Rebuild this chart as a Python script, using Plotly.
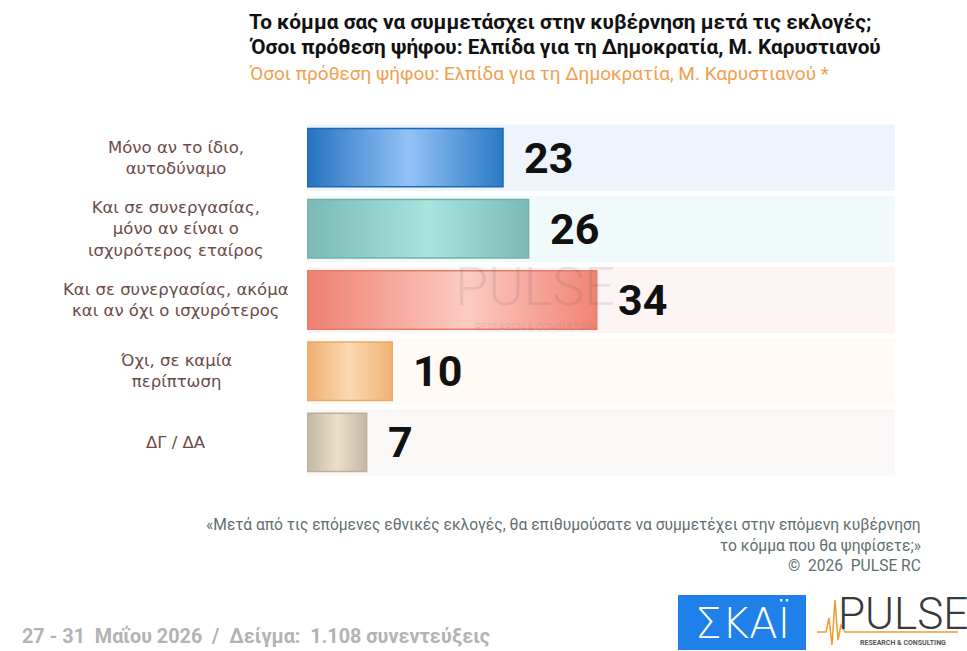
import plotly.graph_objects as go

# ---------------- data ----------------
categories = [
    "Μόνο αν το ίδιο,<br>αυτοδύναμο",
    "Και σε συνεργασίας,<br>μόνο αν είναι ο<br>ισχυρότερος εταίρος",
    "Και σε συνεργασίας, ακόμα<br>και αν όχι ο ισχυρότερος",
    "Όχι, σε καμία<br>περίπτωση",
    "ΔΓ / ΔΑ",
]
values = [23, 26, 34, 10, 7]
value_labels = ["23", "26", "34", "10", "7"]

title_line1 = "Το κόμμα σας να συμμετάσχει στην κυβέρνηση μετά τις εκλογές;"
title_line2 = "Όσοι πρόθεση ψήφου: Ελπίδα για τη Δημοκρατία, Μ. Καρυστιανού"
subtitle = "Όσοι πρόθεση ψήφου: Ελπίδα για τη Δημοκρατία, Μ. Καρυστιανού *"
footnote_lines = [
    "«Μετά από τις επόμενες εθνικές εκλογές, θα επιθυμούσατε να συμμετέχει στην επόμενη κυβέρνηση",
    "το κόμμα που θα ψηφίσετε;»",
    "©  2026  PULSE RC",
]
date_text = "27 - 31  Μαΐου 2026  /  Δείγμα:  1.108 συνεντεύξεις"

# ---------------- styles ----------------
W, H = 967, 651
TRACK_MAX = 69
BAR_HALF = 0.41
TRACK_WIDTH = 0.93
grad_scales = [
    [[0, "#2672bf"], [0.52, "#93c2f7"], [1, "#2a79c4"]],
    [[0, "#7ab9b5"], [0.55, "#a9e4df"], [1, "#7cbab6"]],
    [[0, "#ef8070"], [0.55, "#fdcbc3"], [1, "#f08474"]],
    [[0, "#efb070"], [0.5, "#fad9b2"], [1, "#f0b274"]],
    [[0, "#c3b7a3"], [0.5, "#ecdfca"], [1, "#c4b8a4"]],
]
edge_colors = ["#1f68b3", "#74b0ac", "#ea7a6a", "#eaa968", "#bcb09c"]
track_colors = ["#eef4fc", "#f0fafa", "#fdf4f4", "#fffaf4", "#faf8f6"]
label_color = "#6b4b48"


def px(x):
    return x / W


def py(y):
    return 1 - y / H


positions = list(range(len(values)))

fig = go.Figure()

# background tracks
fig.add_trace(go.Bar(
    x=[TRACK_MAX] * len(values), y=positions, orientation="h",
    width=TRACK_WIDTH, marker=dict(color=track_colors, line=dict(width=0)),
    hoverinfo="skip", showlegend=False,
))

# gradient bars
for i, v in enumerate(values):
    fig.add_trace(go.Scatter(
        x=[0, v, v, 0, 0],
        y=[i - BAR_HALF, i - BAR_HALF, i + BAR_HALF, i + BAR_HALF, i - BAR_HALF],
        mode="lines", fill="toself",
        fillgradient=dict(type="horizontal", colorscale=grad_scales[i]),
        line=dict(color=edge_colors[i], width=1.5),
        hoverinfo="skip", showlegend=False,
    ))

# value labels
for i, v in enumerate(values):
    fig.add_annotation(
        x=v, y=i, xref="x", yref="y", text=value_labels[i],
        xanchor="left", yanchor="middle", xshift=19, showarrow=False,
        font=dict(family="Roboto", size=43, color="#111111", weight="bold"),
    )

# category labels
for i, c in enumerate(categories):
    fig.add_annotation(
        x=px(176), y=i, xref="paper", yref="y", text=c, align="center",
        xanchor="center", yanchor="middle", showarrow=False,
        font=dict(family="DejaVu Sans", size=16.5, color=label_color),
    )

# titles
fig.add_annotation(x=px(247), y=py(22), xref="paper", yref="paper", text=title_line1,
                   xanchor="left", yanchor="middle", showarrow=False,
                   font=dict(family="Roboto", size=20.8, color="#111111", weight="bold"))
fig.add_annotation(x=px(247), y=py(47), xref="paper", yref="paper", text=title_line2,
                   xanchor="left", yanchor="middle", showarrow=False,
                   font=dict(family="Roboto", size=20.8, color="#111111", weight="bold"))
fig.add_annotation(x=px(247), y=py(73), xref="paper", yref="paper", text=subtitle,
                   xanchor="left", yanchor="middle", showarrow=False,
                   font=dict(family="Roboto", size=19, color="#f0a050"))

# watermark
fig.add_annotation(x=px(535), y=py(286), xref="paper", yref="paper", text="PULSE",
                   xanchor="center", yanchor="middle", showarrow=False, opacity=0.12,
                   font=dict(family="Roboto", size=54, color="#555555", weight=300))
fig.add_annotation(x=px(535), y=py(327), xref="paper", yref="paper", text="RESEARCH & CONSULTING",
                   xanchor="center", yanchor="middle", showarrow=False, opacity=0.12,
                   font=dict(family="Roboto", size=10, color="#555555"))

# footnote
for t, yy in zip(footnote_lines, [525, 546, 566]):
    fig.add_annotation(x=px(923), y=py(yy), xref="paper", yref="paper", text=t,
                       xanchor="right", yanchor="middle", showarrow=False,
                       font=dict(family="Roboto", size=15.6, color="#5f6f70"))

# date / sample
fig.add_annotation(x=px(20), y=py(636), xref="paper", yref="paper", text=date_text,
                   xanchor="left", yanchor="middle", showarrow=False,
                   font=dict(family="Roboto", size=19.8, color="#b3b3b3", weight="bold"))

# SKAI logo
fig.add_shape(type="rect", xref="paper", yref="paper", x0=px(678), x1=px(806), y0=py(650), y1=py(595),
              fillcolor="#1f80ea", line=dict(width=0), layer="above")
fig.add_annotation(x=px(742), y=py(623), xref="paper", yref="paper", text="ΣΚΑΪ",
                   xanchor="center", yanchor="middle", showarrow=False,
                   font=dict(family="DejaVu Sans", size=42, color="white", weight=300))

# PULSE logo
fig.add_annotation(x=px(903), y=py(614), xref="paper", yref="paper", text="PULSE",
                   xanchor="center", yanchor="middle", showarrow=False,
                   font=dict(family="Roboto", size=44, color="#3a3a3a", weight=300))
fig.add_annotation(x=px(903), y=py(643), xref="paper", yref="paper", text="<b>RESEARCH & CONSULTING</b>",
                   xanchor="center", yanchor="middle", showarrow=False,
                   font=dict(family="Roboto", size=7, color="#555555"))
pulse_path = ("M {} {} L {} {} L {} {} L {} {} L {} {} L {} {} L {} {} L {} {} L {} {}").format(
    px(817), py(632), px(826), py(632), px(829), py(618), px(832), py(645), px(835), py(600),
    px(838), py(640), px(841), py(625), px(845), py(632), px(958), py(632))
fig.add_shape(type="path", xref="paper", yref="paper", path=pulse_path,
              line=dict(color="#f29a2e", width=1.5))

fig.update_layout(
    width=W, height=H,
    margin=dict(l=0, r=0, t=0, b=0),
    paper_bgcolor="white", plot_bgcolor="white",
    barmode="overlay",
    xaxis=dict(domain=[px(307), px(895)], range=[0, TRACK_MAX], visible=False, fixedrange=True),
    yaxis=dict(domain=[py(478), py(122)], range=[len(values) - 0.5, -0.5], visible=False, fixedrange=True),
    showlegend=False,
)

fig.write_html("out.html")
